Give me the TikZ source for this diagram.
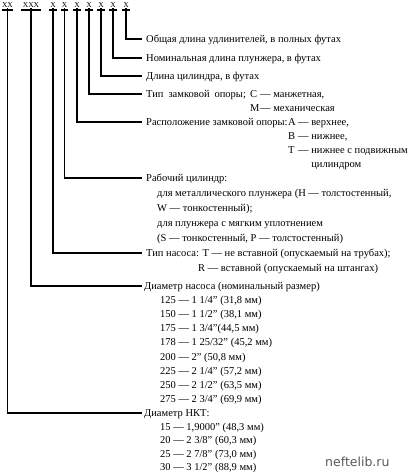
\documentclass[tikz,border=0pt]{standalone}
\usepackage{fontspec}
\setmainfont{Liberation Serif}
\newfontfamily\wmfont{DejaVu Sans}
\newcommand\mylet[1]{\makebox[10pt][l]{#1}}
\begin{document}
\begin{tikzpicture}[x=1pt,y=-1pt,
  tx/.style={anchor=base west, inner sep=0pt, font=\fontsize{10.5}{12}\selectfont},
  wide/.style={execute at begin node={\spaceskip=5pt\relax}},
  lab/.style={anchor=base, inner sep=0pt, text depth=0pt, font=\fontsize{7.5}{8}\selectfont},
  bar/.style={line width=1.6pt},
  lnA/.style={line width=1.7pt},
  lnB/.style={line width=1.25pt}]
\useasboundingbox (0,0) rectangle (409,473);
% top labels
\node[lab, minimum width=11pt] (l1) at (7.5,8) {XX};
\node[lab, minimum width=20pt] (l2) at (31,8) {XXX};
\node[lab, minimum width=7pt] (l3) at (53,8) {X};
\node[lab, minimum width=7pt] (l4) at (64.5,8) {X};
\node[lab, minimum width=7pt] (l5) at (77,8) {X};
\node[lab, minimum width=7pt] (l6) at (89,8) {X};
\node[lab, minimum width=7pt] (l7) at (101,8) {X};
\node[lab, minimum width=7pt] (l8) at (113,8) {X};
\node[lab, minimum width=7pt] (l9) at (126,8) {X};
\foreach \n in {l1,l2,l3,l4,l5,l6,l7,l8,l9}
  \draw[bar] ([yshift=-2pt]\n.base west) -- ([yshift=-2pt]\n.base east);
% connector ends
\coordinate (e9) at (142,39);
\coordinate (e8) at (142,58);
\coordinate (e7) at (142,76);
\coordinate (e6) at (142,94);
\coordinate (e5) at (142,122);
\coordinate (e4) at (142,178);
\coordinate (e3) at (142,253);
\coordinate (e2) at (142,286);
\coordinate (e1) at (142,413);
\draw[lnA] (l9.south) |- (e9);
\draw[lnA] (l8.south) |- (e8);
\draw[lnB] (l7.south) |- (e7);
\draw[lnA] (l6.south) |- (e6);
\draw[lnB] (l5.south) |- (e5);
\draw[lnB] (l4.south) |- (e4);
\draw[lnA] (l3.south) |- (e3);
\draw[lnA] (l2.south) |- (e2);
\draw[lnA] (l1.south) |- (e1);
% texts
\node[tx] (a9) at (146,42.5) {Общая длина удлинителей, в полных футах};
\node[tx] (a8) at (146,61.5) {Номинальная длина плунжера, в футах};
\node[tx] (a7) at (146,79.5) {Длина цилиндра, в футах};
\node[tx, wide] (a6) at (146,97.5) {Тип замковой опоры;};
\node[tx] (a6b) at (250,97.5) {\mylet{C}— манжетная,};
\node[tx] (a6c) at (250,111.5) {\mylet{M}— механическая};
\node[tx] (a5) at (146,125.5) {Расположение замковой опоры:};
\node[tx] (a5b) at (288,125.5) {\mylet{A}— верхнее,};
\node[tx] (a5c) at (288,139.5) {\mylet{B}— нижнее,};
\node[tx] (a5d) at (288,153.5) {\mylet{T}— нижнее с подвижным};
\node[tx] (a5e) at (288,167.5) {\phantom{\mylet{T}— }цилиндром};
\node[tx] (a4) at (146,181.5) {Рабочий цилиндр:};
\node[tx] (a4b) at (157,196.5) {для металлического плунжера (H — толстостенный,};
\node[tx] (a4c) at (157,211.5) {W — тонкостенный);};
\node[tx] (a4d) at (157,226.5) {для плунжера с мягким уплотнением};
\node[tx] (a4e) at (157,241.5) {(S — тонкостенный, P — толстостенный)};
\node[tx] (a3) at (146,256.5) {Тип насоса: T — не вставной (опускаемый на трубах);};
\node[tx] (a3b) at (198,271.5) {R — вставной (опускаемый на штангах)};
\node[tx] (a2) at (144,289.5) {Диаметр насоса (номинальный размер)};
\node[tx] (d1) at (160,303.6) {125 — 1 1/4" (31,8 мм)};
\node[tx] (d2) at (160,317.7) {150 — 1 1/2" (38,1 мм)};
\node[tx] (d3) at (160,331.8) {175 — 1 3/4"(44,5 мм)};
\node[tx] (d4) at (160,345.9) {178 — 1 25/32" (45,2 мм)};
\node[tx] (d5) at (160,360.0) {200 — 2" (50,8 мм)};
\node[tx] (d6) at (160,374.1) {225 — 2 1/4" (57,2 мм)};
\node[tx] (d7) at (160,388.2) {250 — 2 1/2" (63,5 мм)};
\node[tx] (d8) at (160,402.3) {275 — 2 3/4" (69,9 мм)};
\node[tx] (a1) at (144,416.5) {Диаметр НКТ:};
\node[tx] (k1) at (160,430) {15 — 1,9000" (48,3 мм)};
\node[tx] (k2) at (160,443.5) {20 — 2 3/8" (60,3 мм)};
\node[tx] (k3) at (160,457) {25 — 2 7/8" (73,0 мм)};
\node[tx] (k4) at (160,470.5) {30 — 3 1/2" (88,9 мм)};
\node[anchor=base west, inner sep=0pt, text=black!65, font=\wmfont\fontsize{12.5}{14}\selectfont] (wm) at (325,466) {neftelib.ru};
\end{tikzpicture}
\end{document}
